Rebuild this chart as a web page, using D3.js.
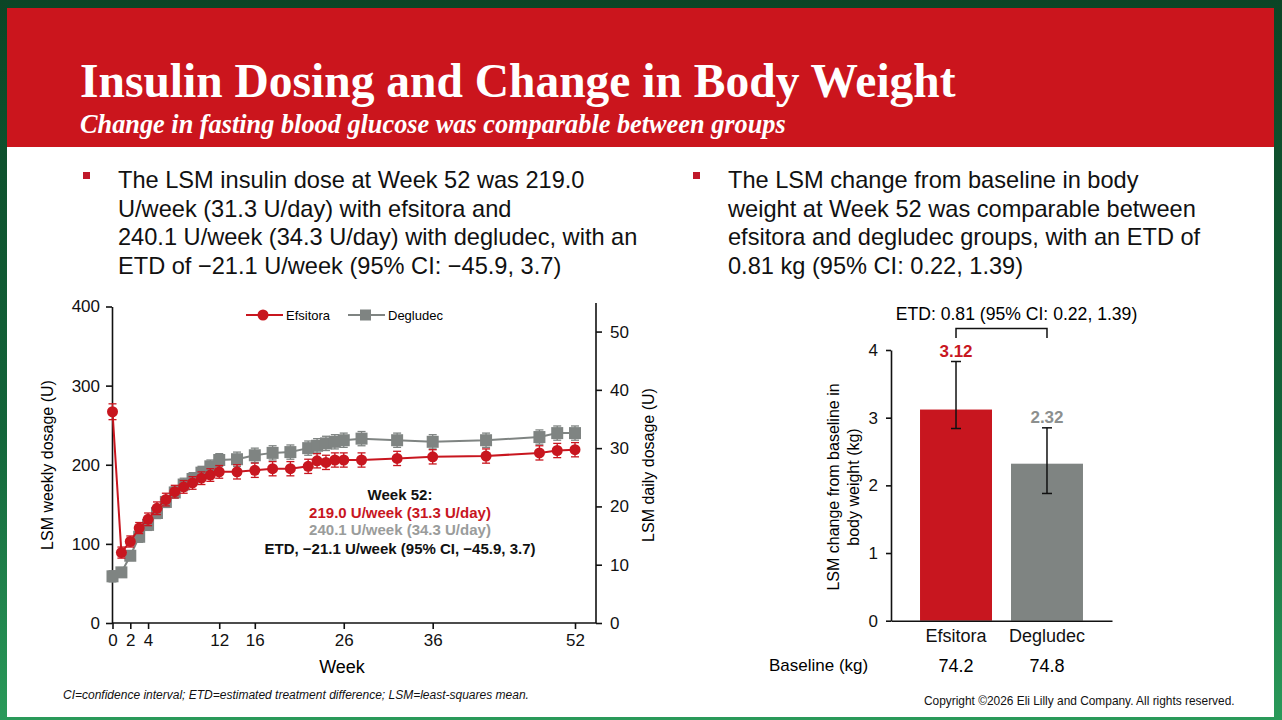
<!DOCTYPE html>
<html>
<head>
<meta charset="utf-8">
<script src="https://cdn.jsdelivr.net/npm/d3@7"></script>
<style>
    html, body { margin: 0; padding: 0; background: #0c4a28; }
    svg { display: block; font-family: "Liberation Sans", Arial, sans-serif; }
    .axis path, .axis line { stroke: #111; stroke-width: 1.6; }
    .axis text { font-family: "Liberation Sans", Arial, sans-serif; fill: #111; }
</style>
</head>
<body>
<svg id="slide"></svg>
<script>
const fullWidth = 1282;
const fullHeight = 720;

// insulin dose by week (U/week)
const weeks = [0, 1, 2, 3, 4, 5, 6, 7, 8, 9, 10, 11, 12, 14, 16, 18, 20, 22, 23, 24, 25, 26, 28, 32, 36, 42, 48, 50, 52];
const efsitoraDose = [267, 89, 103, 120, 131, 145, 156, 166, 172, 177, 183, 187, 191, 191, 193, 195, 195, 198, 205, 203, 206, 206, 206, 208, 210, 211, 215, 218, 219];
const efsitoraErr = [10, 7, 7, 7, 8, 8, 8, 8, 8, 8, 8, 8, 8, 9, 9, 9, 9, 9, 9, 9, 9, 9, 9, 9, 9, 9, 9, 9, 9];
const degludecDose = [59, 64, 85, 109, 124, 139, 153, 165, 175, 182, 190, 198, 206, 207, 212, 215, 216, 221, 224, 227, 229, 231, 233, 231, 229, 231, 235, 240, 240];
const degludecErr = [7, 6, 6, 7, 7, 7, 7, 7, 8, 8, 8, 8, 8, 9, 9, 9, 9, 9, 9, 9, 9, 9, 9, 9, 9, 9, 9, 9, 9];
const weekTicks = [0, 2, 4, 12, 16, 26, 36, 52];
const weeklyTicks = [0, 100, 200, 300, 400];
const dailyTicks = [0, 10, 20, 30, 40, 50];

// body weight change at week 52 (kg)
const groups = ['Efsitora', 'Degludec'];
const weightChange = [3.12, 2.32];
const ciLow = [2.84, 1.88];
const ciHigh = [3.83, 2.85];
const baselineKg = ['74.2', '74.8'];
const weightTicks = [0, 1, 2, 3, 4];

const red = '#c8161f';
const gray = '#7f8482';

const svg = d3.select('#slide')
    .attr('width', fullWidth)
    .attr('height', fullHeight);

const defs = svg.append('defs');
const bg = defs.append('linearGradient')
    .attr('id', 'bg-green')
    .attr('x1', 0).attr('y1', 0).attr('x2', 0).attr('y2', 1);
bg.append('stop').attr('offset', '0%').attr('stop-color', '#0b4526');
bg.append('stop').attr('offset', '60%').attr('stop-color', '#13653a');
bg.append('stop').attr('offset', '100%').attr('stop-color', '#2a9a5a');

svg.append('rect')
    .attr('width', fullWidth).attr('height', fullHeight)
    .attr('fill', 'url(#bg-green)');
svg.append('rect')
    .attr('x', 7).attr('y', 8).attr('width', 1267).attr('height', 709)
    .attr('fill', '#ffffff');
svg.append('rect')
    .attr('x', 7).attr('y', 8).attr('width', 1267).attr('height', 139)
    .attr('fill', '#cb151d');

// header
svg.append('text')
    .attr('x', 80).attr('y', 97)
    .attr('fill', '#fff')
    .style('font-family', '"Liberation Serif", "Times New Roman", serif')
    .style('font-weight', 'bold')
    .style('font-size', '47.5px')
    .text('Insulin Dosing and Change in Body Weight');

svg.append('text')
    .attr('x', 80).attr('y', 133)
    .attr('fill', '#fff')
    .style('font-family', '"Liberation Serif", "Times New Roman", serif')
    .style('font-weight', 'bold')
    .style('font-style', 'italic')
    .style('font-size', '26.3px')
    .text('Change in fasting blood glucose was comparable between groups');

// bullets
function bullet(x, lines) {
    svg.append('rect')
        .attr('x', x).attr('y', 172)
        .attr('width', 7).attr('height', 7)
        .attr('fill', '#c0182a');
    const t = svg.append('text')
        .attr('x', x + 35).attr('y', 188)
        .attr('fill', '#111')
        .style('font-size', '23.6px');
    t.selectAll('tspan').data(lines)
        .enter().append('tspan')
            .attr('x', x + 35)
            .attr('dy', (d, i) => i === 0 ? 0 : 28.7)
            .text(d => d);
}

bullet(83, [
    'The LSM insulin dose at Week 52 was 219.0',
    'U/week (31.3 U/day) with efsitora and',
    '240.1 U/week (34.3 U/day) with degludec, with an',
    'ETD of \u221221.1 U/week (95% CI: \u221245.9, 3.7)',
]);
bullet(693, [
    'The LSM change from baseline in body',
    'weight at Week 52 was comparable between',
    'efsitora and degludec groups, with an ETD of',
    '0.81 kg (95% CI: 0.22, 1.39)',
]);

// ---------- line chart ----------
const x = d3.scaleLinear().domain([0, 52]).range([112.5, 575]);
const yWeek = d3.scaleLinear().domain([0, 400]).range([623, 306.5]);
const yDay = d3.scaleLinear().domain([0, 54.3]).range([623, 306.5]);

const line = svg.append('g');

line.append('g')
    .attr('class', 'axis')
    .attr('transform', 'translate(112,0)')
    .call(d3.axisLeft(yWeek).tickValues(weeklyTicks).tickSize(6).tickSizeOuter(0).tickPadding(6))
    .call(g => g.selectAll('text').style('font-size', '17px'));

line.append('g')
    .attr('class', 'axis')
    .attr('transform', 'translate(596,0)')
    .call(d3.axisRight(yDay).tickValues(dailyTicks).tickSize(6).tickSizeOuter(0).tickPadding(8))
    .call(g => g.select('.domain').attr('d', 'M0,303V623'))
    .call(g => g.selectAll('text').style('font-size', '17px'));

line.append('g')
    .attr('class', 'axis')
    .attr('transform', 'translate(0,623)')
    .call(d3.axisBottom(x).tickValues(weekTicks).tickSize(6).tickSizeOuter(0).tickPadding(5))
    .call(g => g.select('.domain').attr('d', 'M112,0H596'))
    .call(g => g.selectAll('text').style('font-size', '17px'));

line.append('text')
    .attr('x', 342).attr('y', 673)
    .attr('text-anchor', 'middle')
    .style('font-size', '18px')
    .text('Week');

line.append('text')
    .attr('transform', 'translate(53,465) rotate(-90)')
    .attr('text-anchor', 'middle')
    .style('font-size', '16px')
    .text('LSM weekly dosage (U)');

line.append('text')
    .attr('transform', 'translate(654,465) rotate(-90)')
    .attr('text-anchor', 'middle')
    .style('font-size', '16px')
    .text('LSM daily dosage (U)');

const series = [
    {name: 'Degludec', color: gray, shape: 'square', values: degludecDose, err: degludecErr},
    {name: 'Efsitora', color: red, shape: 'circle', values: efsitoraDose, err: efsitoraErr},
];

const dosePath = d3.line()
    .x(d => x(d.week))
    .y(d => yWeek(d.value));

series.forEach(s => {
    const pts = weeks.map((w, i) => ({week: w, value: s.values[i], err: s.err[i]}));
    const g = line.append('g');

    g.append('path')
        .datum(pts)
        .attr('d', dosePath)
        .attr('fill', 'none')
        .attr('stroke', s.color)
        .attr('stroke-width', 2);

    const eb = g.selectAll('.err').data(pts)
        .enter().append('g')
            .attr('class', 'err')
            .attr('stroke', s.color)
            .attr('stroke-width', 1.3);
    eb.append('line')
        .attr('x1', d => x(d.week)).attr('x2', d => x(d.week))
        .attr('y1', d => yWeek(d.value + d.err)).attr('y2', d => yWeek(d.value - d.err));
    eb.append('line')
        .attr('x1', d => x(d.week) - 4).attr('x2', d => x(d.week) + 4)
        .attr('y1', d => yWeek(d.value + d.err)).attr('y2', d => yWeek(d.value + d.err));
    eb.append('line')
        .attr('x1', d => x(d.week) - 4).attr('x2', d => x(d.week) + 4)
        .attr('y1', d => yWeek(d.value - d.err)).attr('y2', d => yWeek(d.value - d.err));

    if (s.shape === 'circle') {
        g.selectAll('.mark').data(pts)
            .enter().append('circle')
                .attr('class', 'mark')
                .attr('cx', d => x(d.week))
                .attr('cy', d => yWeek(d.value))
                .attr('r', 5.5)
                .attr('fill', s.color);
    } else {
        g.selectAll('.mark').data(pts)
            .enter().append('rect')
                .attr('class', 'mark')
                .attr('x', d => x(d.week) - 6)
                .attr('y', d => yWeek(d.value) - 6)
                .attr('width', 12).attr('height', 12)
                .attr('fill', s.color);
    }
});

// legend
const legendItems = [
    {name: 'Efsitora', color: red, shape: 'circle', x: 246},
    {name: 'Degludec', color: gray, shape: 'square', x: 348},
];
const legend = line.selectAll('.legend').data(legendItems)
    .enter().append('g')
        .attr('class', 'legend')
        .attr('transform', d => `translate(${d.x},315)`);
legend.append('line')
    .attr('x1', 0).attr('x2', 37)
    .attr('stroke', d => d.color).attr('stroke-width', 2);
legend.filter(d => d.shape === 'circle').append('circle')
    .attr('cx', 17).attr('r', 5.5).attr('fill', d => d.color);
legend.filter(d => d.shape === 'square').append('rect')
    .attr('x', 12).attr('y', -5.5).attr('width', 11).attr('height', 11).attr('fill', d => d.color);
legend.append('text')
    .attr('x', 40).attr('y', 5)
    .style('font-size', '13px')
    .text(d => d.name);

// week 52 annotation
const notes = [
    {text: 'Week 52:', color: '#111', y: 500},
    {text: '219.0 U/week (31.3 U/day)', color: red, y: 518},
    {text: '240.1 U/week (34.3 U/day)', color: '#9a9c9b', y: 535},
    {text: 'ETD, \u221221.1 U/week (95% CI, \u221245.9, 3.7)', color: '#111', y: 554},
];
line.selectAll('.note').data(notes)
    .enter().append('text')
        .attr('class', 'note')
        .attr('x', 400).attr('y', d => d.y)
        .attr('text-anchor', 'middle')
        .attr('fill', d => d.color)
        .style('font-size', '15px')
        .style('font-weight', 'bold')
        .text(d => d.text);

// ---------- bar chart ----------
const bx = d3.scaleBand().domain(groups).range([891, 1112]).paddingInner(0.209).paddingOuter(0.319);
const by = d3.scaleLinear().domain([0, 4]).range([620.7, 350]);

const bars = svg.append('g');
const barData = groups.map((g, i) => ({
    group: g, value: weightChange[i], lo: ciLow[i], hi: ciHigh[i], baseline: baselineKg[i],
    color: i === 0 ? red : gray,
}));

bars.selectAll('.bar').data(barData)
    .enter().append('rect')
        .attr('class', 'bar')
        .attr('x', d => bx(d.group))
        .attr('y', d => by(d.value))
        .attr('width', bx.bandwidth())
        .attr('height', d => by(0) - by(d.value))
        .attr('fill', d => d.color);

const ci = bars.selectAll('.ci').data(barData)
    .enter().append('g')
        .attr('class', 'ci')
        .attr('stroke', '#111')
        .attr('stroke-width', 1.5);
ci.append('line')
    .attr('x1', d => bx(d.group) + bx.bandwidth() / 2).attr('x2', d => bx(d.group) + bx.bandwidth() / 2)
    .attr('y1', d => by(d.hi)).attr('y2', d => by(d.lo));
ci.append('line')
    .attr('x1', d => bx(d.group) + bx.bandwidth() / 2 - 5).attr('x2', d => bx(d.group) + bx.bandwidth() / 2 + 5)
    .attr('y1', d => by(d.hi)).attr('y2', d => by(d.hi));
ci.append('line')
    .attr('x1', d => bx(d.group) + bx.bandwidth() / 2 - 5).attr('x2', d => bx(d.group) + bx.bandwidth() / 2 + 5)
    .attr('y1', d => by(d.lo)).attr('y2', d => by(d.lo));

bars.selectAll('.value').data(barData)
    .enter().append('text')
        .attr('class', 'value')
        .attr('x', d => bx(d.group) + bx.bandwidth() / 2)
        .attr('y', d => by(d.hi) - 5)
        .attr('text-anchor', 'middle')
        .attr('fill', (d, i) => i === 0 ? red : '#8c8f8e')
        .style('font-size', '17px')
        .style('font-weight', 'bold')
        .text(d => d.value.toFixed(2));

bars.append('g')
    .attr('class', 'axis')
    .attr('transform', 'translate(891,0)')
    .call(d3.axisLeft(by).tickValues(weightTicks).tickFormat(d3.format('d')).tickSize(5).tickSizeOuter(0).tickPadding(8))
    .call(g => g.selectAll('text').style('font-size', '17px'));

bars.append('g')
    .attr('class', 'axis')
    .attr('transform', 'translate(0,620.7)')
    .call(d3.axisBottom(bx).tickSize(0).tickSizeOuter(0).tickPadding(9))
    .call(g => g.selectAll('text').style('font-size', '18px'));

bars.append('text')
    .attr('transform', 'translate(839,487) rotate(-90)')
    .attr('text-anchor', 'middle')
    .style('font-size', '16px')
    .selectAll('tspan').data(['LSM change from baseline in', 'body weight (kg)'])
    .enter().append('tspan')
        .attr('x', 0)
        .attr('dy', (d, i) => i === 0 ? 0 : 20)
        .text(d => d);

// ETD bracket
const c0 = bx(groups[0]) + bx.bandwidth() / 2;
const c1 = bx(groups[1]) + bx.bandwidth() / 2;
bars.append('path')
    .attr('d', `M${c0},338V328.5H${c1}V338`)
    .attr('fill', 'none')
    .attr('stroke', '#111')
    .attr('stroke-width', 1.5);
bars.append('text')
    .attr('x', (c0 + c1) / 2 + 15).attr('y', 320)
    .attr('text-anchor', 'middle')
    .style('font-size', '17.6px')
    .text('ETD: 0.81 (95% CI: 0.22, 1.39)');

bars.append('text')
    .attr('x', 769).attr('y', 671)
    .style('font-size', '17px')
    .text('Baseline (kg)');
bars.selectAll('.baseline').data(barData)
    .enter().append('text')
        .attr('class', 'baseline')
        .attr('x', d => bx(d.group) + bx.bandwidth() / 2)
        .attr('y', 672)
        .attr('text-anchor', 'middle')
        .style('font-size', '18px')
        .text(d => d.baseline);

// footers
svg.append('text')
    .attr('x', 63).attr('y', 699)
    .attr('fill', '#111')
    .style('font-size', '12px')
    .style('font-style', 'italic')
    .text('CI=confidence interval; ETD=estimated treatment difference; LSM=least-squares mean.');
svg.append('text')
    .attr('x', 924).attr('y', 705)
    .attr('fill', '#111')
    .style('font-size', '11.9px')
    .text('Copyright \u00a92026 Eli Lilly and Company. All rights reserved.');
</script>
</body>
</html>
